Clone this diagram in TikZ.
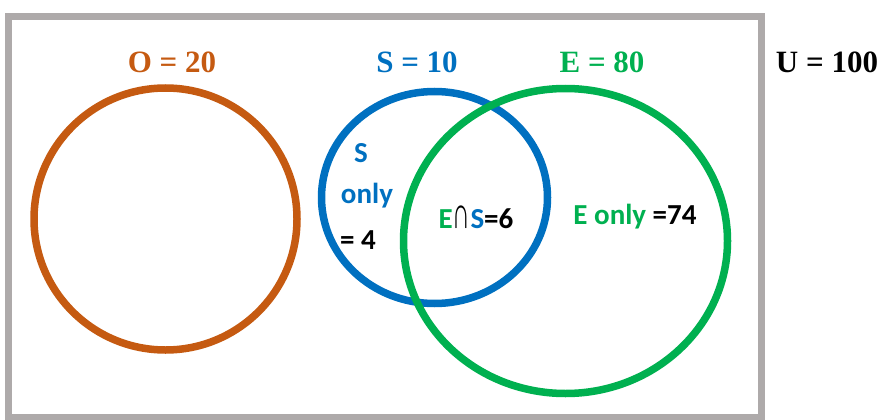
\documentclass[tikz,border=0pt]{standalone}
\usepackage{fontspec}
\setmainfont{Liberation Serif}
\newfontfamily\calfont{Carlito}
\newfontfamily\capfont{Liberation Sans}
\usepackage{graphicx}
\usepackage{xcolor}
\usepackage{tikz}
\usetikzlibrary{shapes.geometric}
\definecolor{setorange}{HTML}{C55A11}
\definecolor{setblue}{HTML}{0070C0}
\definecolor{setgreen}{HTML}{00B050}
\definecolor{framegray}{HTML}{AEAAAA}

\begin{document}
\begin{tikzpicture}[
        x=1pt, y=-1pt,
        setring/.style={
            ellipse,
            draw=#1,
            line width=7.5pt,
            inner sep=0pt
        },
        title/.style={
            font=\fontsize{31}{31}\selectfont\bfseries,
            inner sep=1pt
        },
        region/.style={
            font=\calfont\fontsize{29}{29}\selectfont\bfseries,
            inner sep=1pt
        }
    ]
        \useasboundingbox (0,0) rectangle (883,420);

        % universe frame
        \draw[framegray, line width=7pt] (8.5,16.5) rectangle (761,417);

        % set labels
        \node[title, text=setorange] (labO) at (172, 62) {O = 20};
        \node[title, text=setblue] (labS) at (417, 62) {S = 10};
        \node[title, text=setgreen] (labE) at (602, 62) {E = 80};
        \node[title] (labU) at (827, 62) {U = 100};

        % sets
        \node[setring=setorange, minimum width=263pt, minimum height=262pt] (setO) at (165.5, 219) {};
        \node[setring=setblue, minimum width=226pt, minimum height=212pt] (setS) at (434.5, 197.5) {};
        \node[setring=setgreen, minimum width=324pt, minimum height=305pt] (setE) at (565.5, 241) {};

        % regions
        \node[region, text=setblue] (sOnlyA) at (361, 153) {S};
        \node[region, text=setblue] (sOnlyB) at (367, 196) {only};
        \node[region] (sOnlyC) at (358, 240) {= 4};
        \node[region] (both) at (476, 217) {\textcolor{setgreen}{E}\scalebox{0.85}[1.55]{\capfont\mdseries\char"2229}\textcolor{setblue}{S}=6};
        \node[region] (eOnly) at (635, 217) {\textcolor{setgreen}{E only} =74};
    \end{tikzpicture}
\end{document}
